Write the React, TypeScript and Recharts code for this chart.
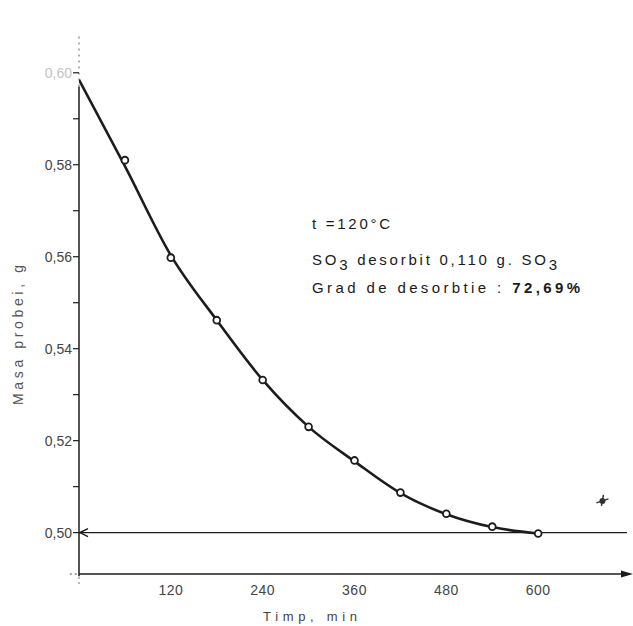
import React from 'react';
import {
  ComposedChart,
  Line,
  Scatter,
  XAxis,
  YAxis,
  ReferenceLine,
  ReferenceDot,
} from 'recharts';

// ---- data ----
const timeTicks = [120, 240, 360, 480, 600];
const massTicks = [0.5, 0.51, 0.52, 0.53, 0.54, 0.55, 0.56, 0.57, 0.58, 0.59, 0.6];

const measTime = [60, 120, 180, 240, 300, 360, 420, 480, 540, 600];
const measMass = [0.581, 0.5598, 0.5462, 0.5332, 0.523, 0.5157, 0.5087, 0.5041, 0.5013, 0.4998];

const curveTime = [0, 60, 120, 180, 240, 300, 360, 420, 480, 540, 600];
const curveMass = [0.5985, 0.5797, 0.5603, 0.5462, 0.5332, 0.523, 0.5155, 0.5086, 0.504, 0.5012, 0.4998];

const strayTime = [684];
const strayMass = [0.5069];

const measData = measTime.map((t, i) => ({ t, m: measMass[i] }));
const curveData = curveTime.map((t, i) => ({ t, m: curveMass[i] }));
const strayData = strayTime.map((t, i) => ({ t, m: strayMass[i] }));

const FONT = '"Liberation Sans", Arial, sans-serif';
const INK = '#1c1c1c';

const YTick = (props: any) => {
  const { x, y, payload } = props;
  const v = payload.value as number;
  const k = Math.round(v * 100);
  if (k % 2 !== 0) return null;
  return (
    <text
      x={x}
      y={y}
      dy={5}
      textAnchor="end"
      fontSize={14}
      fontFamily={FONT}
      fill={k === 60 ? '#c4c4c4' : '#444'}
    >
      {v.toFixed(2).replace('.', ',')}
    </text>
  );
};

const XTick = (props: any) => {
  const { x, y, payload } = props;
  return (
    <text x={x} y={y} dy={11} textAnchor="middle" fontSize={14} fontFamily={FONT} fill="#444" letterSpacing={0.5}>
      {payload.value}
    </text>
  );
};

const Ring = (props: any) => {
  const { cx, cy } = props;
  return <circle cx={cx} cy={cy} r={3.4} fill="#fff" stroke={INK} strokeWidth={1.8} />;
};

const Blob = (props: any) => {
  const { cx, cy } = props;
  return (
    <g>
      <circle cx={cx} cy={cy} r={3} fill="#333" />
      <path d={`M${cx - 6},${cy + 2} L${cx + 6},${cy - 2} M${cx + 1},${cy - 6} L${cx - 1},${cy + 5}`} stroke="#333" strokeWidth={1.5} />
    </g>
  );
};

const RightArrow = (props: any) => {
  const { cx, cy } = props;
  return <polygon points={`${cx - 9},${cy - 3.5} ${cx + 3},${cy} ${cx - 9},${cy + 3.5}`} fill={INK} />;
};

const LeftChevron = (props: any) => {
  const { cx, cy } = props;
  return (
    <path
      d={`M${cx + 9},${cy - 4} L${cx + 1},${cy} L${cx + 9},${cy + 4}`}
      fill="none"
      stroke={INK}
      strokeWidth={1.5}
    />
  );
};

export default function App() {
  return (
    <div style={{ position: 'absolute', left: 0, top: 0, width: 633, height: 626, background: '#fff' }}>
      <ComposedChart
        width={633}
        height={626}
        margin={{ top: 36, right: 3, bottom: 12, left: 0 }}
      >
        <XAxis
          type="number"
          dataKey="t"
          domain={[0, 720]}
          ticks={timeTicks}
          axisLine={false}
          tickLine={false}
          tickMargin={4}
          height={40}
          tick={<XTick />}
          allowDataOverflow
        />
        <YAxis
          type="number"
          dataKey="m"
          domain={[0.491, 0.608]}
          ticks={massTicks}
          width={79}
          axisLine={false}
          tickLine={{ stroke: INK, strokeWidth: 1.2 }}
          tickSize={6}
          tickMargin={1}
          tick={<YTick />}
          interval={0}
          allowDataOverflow
        />
        {/* y axis */}
        <ReferenceLine
          segment={[{ x: 0, y: 0.4905 }, { x: 0, y: 0.597 }]}
          stroke={INK}
          strokeWidth={1.5}
          ifOverflow="visible"
        />
        <ReferenceLine
          segment={[{ x: 0, y: 0.597 }, { x: 0, y: 0.608 }]}
          stroke="#888"
          strokeWidth={1.3}
          strokeDasharray="2 4"
          ifOverflow="visible"
        />
        <ReferenceLine
          segment={[{ x: 0, y: 0.4888 }, { x: 0, y: 0.4905 }]}
          stroke="#999"
          strokeWidth={1.3}
          strokeDasharray="2 3"
          ifOverflow="visible"
        />
        {/* x axis */}
        <ReferenceLine
          segment={[{ x: -12, y: 0.491 }, { x: 0, y: 0.491 }]}
          stroke="#888"
          strokeWidth={1.3}
          strokeDasharray="2 3"
          ifOverflow="visible"
        />
        <ReferenceLine
          segment={[{ x: 0, y: 0.491 }, { x: 714, y: 0.491 }]}
          stroke={INK}
          strokeWidth={1.5}
          ifOverflow="visible"
        />
        <ReferenceDot x={720} y={0.491} r={3} ifOverflow="visible" shape={<RightArrow />} />
        {/* final-mass line at 0.50 */}
        <ReferenceLine
          segment={[{ x: 0, y: 0.5 }, { x: 716, y: 0.5 }]}
          stroke={INK}
          strokeWidth={1.3}
          ifOverflow="visible"
        />
        <ReferenceDot x={0} y={0.5} r={3} ifOverflow="visible" shape={<LeftChevron />} />

        <Line
          data={curveData}
          dataKey="m"
          type="monotone"
          stroke={INK}
          strokeWidth={2.6}
          dot={false}
          activeDot={false}
          isAnimationActive={false}
        />
        <Scatter data={measData} dataKey="m" shape={<Ring />} isAnimationActive={false} />
        <Scatter data={strayData} dataKey="m" shape={<Blob />} isAnimationActive={false} />
      </ComposedChart>

      <svg
        width={633}
        height={626}
        style={{ position: 'absolute', left: 0, top: 0, pointerEvents: 'none' }}
      >
        <g fontFamily={FONT} fill="#1a1a1a" fontSize={15}>
          <text x={312} y={229} textLength={78} lengthAdjust="spacing">t =120°C</text>
          <text x={312} y={265} textLength={245} lengthAdjust="spacing">
            SO<tspan dy={5}>3</tspan>
            <tspan dy={-5}> desorbit  0,110 g. SO</tspan>
            <tspan dy={5}>3</tspan>
          </text>
          <text x={312} y={293} textLength={268} lengthAdjust="spacing">
            Grad de desorbtie : <tspan fontWeight="bold">72,69%</tspan>
          </text>
        </g>
        <text
          x={0}
          y={0}
          transform="translate(23,335) rotate(-90)"
          textAnchor="middle"
          fontFamily={FONT}
          fontSize={14}
          fill="#555"
          textLength={140}
          lengthAdjust="spacing"
        >
          Masa probei, g
        </text>
        <text
          x={310}
          y={621}
          textAnchor="middle"
          fontFamily={FONT}
          fontSize={13}
          fill="#444"
          textLength={94}
          lengthAdjust="spacing"
        >
          Timp, min
        </text>
      </svg>
    </div>
  );
}
